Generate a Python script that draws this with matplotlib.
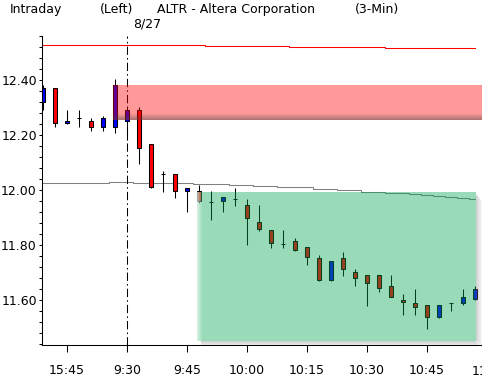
import matplotlib.pyplot as plt
from matplotlib.patches import Rectangle
from matplotlib.ticker import MultipleLocator

# 3-min bars, index 0 = 15:39 of previous session, 7 = 9:30 on 8/27
opens = [12.321, 12.370, 12.243, 12.261, 12.251, 12.230, 12.230, 12.252, 12.291, 12.167,
         12.057, 12.058, 11.998, 11.996, 11.955, 11.958, 11.966, 11.945, 11.883, 11.853,
         11.804, 11.815, 11.792, 11.752, 11.673, 11.752, 11.702, 11.691, 11.691, 11.651,
         11.600, 11.588, 11.582, 11.539, 11.588, 11.590, 11.603]
highs = [12.382, 12.370, 12.291, 12.291, 12.263, 12.269, 12.404, 12.300, 12.301, 12.167,
         12.069, 12.058, 12.006, 12.018, 11.996, 11.974, 12.006, 11.966, 11.945, 11.853,
         11.855, 11.824, 11.792, 11.764, 11.742, 11.775, 11.712, 11.691, 11.691, 11.691,
         11.622, 11.640, 11.582, 11.582, 11.589, 11.640, 11.651]
lows = [12.291, 12.228, 12.239, 12.228, 12.216, 12.216, 12.206, 12.180, 12.095, 12.006,
        11.994, 11.972, 11.921, 11.954, 11.891, 11.921, 11.943, 11.800, 11.852, 11.790,
        11.790, 11.779, 11.727, 11.670, 11.668, 11.688, 11.649, 11.579, 11.630, 11.609,
        11.545, 11.545, 11.495, 11.536, 11.558, 11.580, 11.598]
closes = [12.370, 12.243, 12.251, 12.261, 12.230, 12.261, 12.382, 12.291, 12.152, 12.010,
          12.057, 11.998, 12.006, 11.958, 11.955, 11.974, 11.966, 11.897, 11.857, 11.806,
          11.804, 11.782, 11.756, 11.673, 11.742, 11.714, 11.681, 11.663, 11.643, 11.612,
          11.592, 11.573, 11.539, 11.582, 11.588, 11.610, 11.640]

# reference lines (per bar)
red_line = [12.526] * 14 + [12.523] * 7 + [12.519] * 8 + [12.515] * 8
gray_line = [12.024] * 6 + [12.028] * 2 + [12.024] * 5 + [12.021] * 3 + [12.017] * 2 + \
            [12.013] * 2 + [12.010] * 3 + [12.003] * 2 + [11.999] * 2 + \
            [11.994, 11.992, 11.988, 11.988, 11.984, 11.981, 11.977, 11.973, 11.970, 11.966]

# zones: (start bar, bottom, top)
pink_zone = (5.83, 12.255, 12.382)
green_zone = (12.83, 11.45, 11.993)

tick_pos = [2, 7, 12, 17, 22, 27, 32]
tick_labels = ['15:45', '9:30', '9:45', '10:00', '10:15', '10:30', '10:45']

fig = plt.figure(figsize=(4.82, 3.81), dpi=100)
ax = fig.add_axes([42 / 482, 36 / 381, 440 / 482, 309 / 381])
ax.set_xlim(-0.08, 36.58)
ax.set_ylim(11.436, 12.560)
px_y = (12.560 - 11.436) / 309

x = list(range(len(opens)))
ax.vlines(x, lows, highs, color='black', lw=0.75, zorder=2)
for i in x:
    o, c = opens[i], closes[i]
    col = 'blue' if c > o else 'red'
    ax.add_patch(Rectangle((i - 0.2, min(o, c)), 0.4, abs(c - o), facecolor=col,
                           edgecolor='black', lw=0.75, zorder=2.5))

ax.step(x, red_line, where='mid', color='red', lw=0.75, zorder=1.5)
ax.step(x, gray_line, where='mid', color='#808080', lw=0.75, zorder=1.5)
ax.axvline(7, color='black', lw=0.75, ls=(0, (8, 3, 1.5, 3)), zorder=1.5)

# pink zone with dark bottom edge
x0, b, t = pink_zone
ax.add_patch(Rectangle((x0, b), 40, t - b, facecolor='red', alpha=0.4, lw=0, zorder=3))
for k in range(6):
    ax.add_patch(Rectangle((x0, b + k * px_y), 40, px_y, facecolor='#404040',
                           alpha=0.07 * (6 - k), lw=0, zorder=3.1))

# green zone with soft shadow bottom/right
x0, b, t = green_zone
right = 36.1
ax.add_patch(Rectangle((x0, b), right - x0, t - b, facecolor=(0, 0.65, 0.31), alpha=0.4,
                       lw=0, zorder=3))
for k in range(6):
    a = 0.06 * (6 - k)
    ax.add_patch(Rectangle((x0 + 0.3, b - (k + 1) * px_y), right - x0 - 0.3 + k / 12, px_y,
                           facecolor='gray', alpha=a, lw=0, zorder=3.1))
    ax.add_patch(Rectangle((right + k / 12, b - k * px_y), 1 / 12, t - b - 3 * px_y,
                           facecolor='gray', alpha=a, lw=0, zorder=3.1))
for k in range(5):
    ax.add_patch(Rectangle((x0 + k / 12, b), 1 / 12, t - b, facecolor='white',
                           alpha=0.12 * (5 - k), lw=0, zorder=3.2))

ax.spines['top'].set_visible(False)
ax.spines['right'].set_visible(False)
ax.spines['left'].set_linewidth(0.75)
ax.spines['bottom'].set_linewidth(0.75)
ax.set_xticks(tick_pos)
ax.set_xticklabels(tick_labels)
ax.tick_params(axis='x', length=5, width=0.75, pad=9, labelsize=9)
# last label (11:00) falls past the right edge and is cut off
ax.text(37.25, -20 / 309, '11:00', transform=ax.get_xaxis_transform(), ha='center',
        va='top', fontsize=9, clip_on=False)
ax.yaxis.set_major_locator(MultipleLocator(0.2))
ax.yaxis.set_minor_locator(MultipleLocator(0.04))
ax.yaxis.set_major_formatter(lambda v, p: f'{v:.2f}')
ax.tick_params(axis='y', which='both', length=2.2, width=0.75, pad=1.5, labelsize=9)

fig.text(10 / 482, 1 - 9 / 381, 'Intraday', fontsize=9, va='center')
fig.text(100 / 482, 1 - 9 / 381, '(Left)', fontsize=9, va='center')
fig.text(157 / 482, 1 - 9 / 381, 'ALTR - Altera Corporation', fontsize=9, va='center')
fig.text(355 / 482, 1 - 9 / 381, '(3-Min)', fontsize=9, va='center')
fig.text(133 / 482, 1 - 24 / 381, '8/27', fontsize=9, va='center')

fig.savefig('out.png', dpi=100)
